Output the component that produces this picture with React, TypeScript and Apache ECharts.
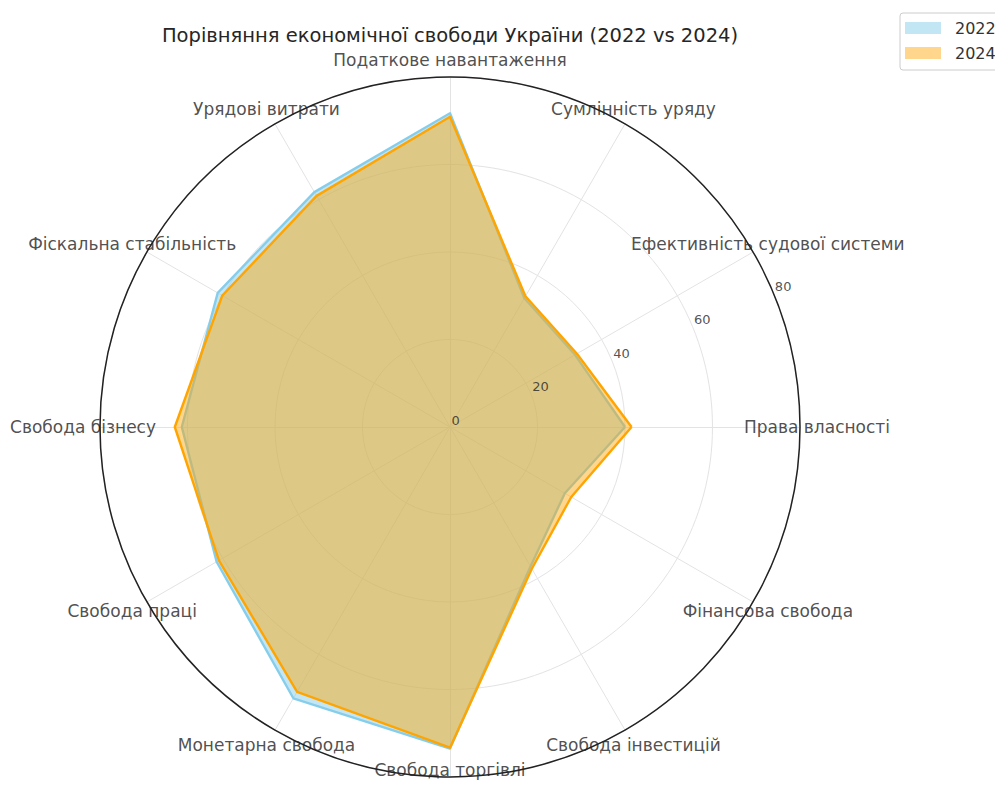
import React, { useEffect, useRef } from "react";
import * as echarts from "echarts";

const categories = [
  "Права власності",
  "Ефективність судової системи",
  "Сумлінність уряду",
  "Податкове навантаження",
  "Урядові витрати",
  "Фіскальна стабільність",
  "Свобода бізнесу",
  "Свобода праці",
  "Монетарна свобода",
  "Свобода торгівлі",
  "Свобода інвестицій",
  "Фінансова свобода",
];
const values2022 = [40.0, 33.0, 34.0, 71.7, 62.0, 61.3, 61.3, 61.6, 71.6, 73.5, 36.8, 30.3];
const values2024 = [41.5, 33.5, 34.5, 70.9, 61.0, 60.1, 62.9, 61.0, 69.9, 73.3, 37.4, 32.0];
const radialTicks = [0, 20, 40, 60, 80];
const radialMax = 80;
const tickAngle = 22.5;
const seriesNames = ["2022", "2024"];
const titleText = "Порівняння економічної свободи України (2022 vs 2024)";

const FONT = "DejaVu Sans";
const CX = 450;
const CY = 427;
const R = 350;
const LABEL_R = 367;

export default function App() {
  const ref = useRef<HTMLDivElement>(null);
  useEffect(() => {
    document.body.style.margin = "0";
    const chart = echarts.init(ref.current!, null, { renderer: "svg" });
    const option: any = {
      animation: false,
      backgroundColor: "#ffffff",
      graphic: [
        {
          type: "text",
          x: CX,
          y: 35,
          style: {
            text: titleText,
            fontFamily: FONT,
            fontSize: 19.5,
            fill: "#262626",
            textAlign: "center",
            textVerticalAlign: "middle",
          },
        },
      ],
      legend: {
        left: 900,
        top: 13,
        orient: "vertical",
        icon: "rect",
        itemWidth: 36,
        itemHeight: 12,
        itemGap: 9,
        padding: [7, 10, 9, 5],
        borderColor: "#cccccc",
        borderWidth: 1,
        borderRadius: 3,
        backgroundColor: "#ffffff",
        textStyle: { fontFamily: FONT, fontSize: 16, lineHeight: 16, color: "#333333", padding: [0, 0, 0, 9] },
        data: [
          { name: seriesNames[0], itemStyle: { color: "rgba(135,206,235,0.5)", borderWidth: 0 } },
          { name: seriesNames[1], itemStyle: { color: "rgba(255,165,0,0.45)", borderWidth: 0 } },
        ],
      },
      radar: {
        center: [CX, CY],
        radius: R,
        startAngle: 0,
        shape: "circle",
        splitNumber: 4,
        indicator: categories.map((c) => ({ name: c, min: 0, max: radialMax })),
        axisName: { show: false },
        axisLine: { lineStyle: { color: "#e3e3e3", width: 1 } },
        splitLine: { lineStyle: { color: "#e3e3e3", width: 1 } },
        splitArea: { show: false },
        axisTick: { show: false },
        axisLabel: { show: false },
      },
      polar: [
        { center: [CX, CY], radius: R },
        { center: [CX, CY], radius: LABEL_R },
      ],
      angleAxis: [
        {
          polarIndex: 0,
          type: "value",
          min: 0,
          max: 360,
          startAngle: 0,
          clockwise: false,
          z: 5,
          axisLine: { show: true, lineStyle: { color: "#222222", width: 1.5 } },
          axisTick: { show: false },
          axisLabel: { show: false },
          splitLine: { show: false },
        },
        {
          polarIndex: 1,
          type: "category",
          data: categories,
          boundaryGap: false,
          startAngle: 0,
          clockwise: false,
          show: false,
        },
      ],
      radiusAxis: [
        { polarIndex: 0, min: 0, max: radialMax, show: false },
        { polarIndex: 1, min: 0, max: 1, show: false },
      ],
      series: [
        {
          type: "radar",
          symbol: "none",
          z: 3,
          data: [
            {
              name: seriesNames[0],
              value: values2022,
              itemStyle: { color: "#87CEEB" },
              lineStyle: { color: "#87CEEB", width: 2.4 },
              areaStyle: { color: "#87CEEB", opacity: 0.5 },
            },
            {
              name: seriesNames[1],
              value: values2024,
              itemStyle: { color: "#FFA500" },
              lineStyle: { color: "#FFA500", width: 2.4 },
              areaStyle: { color: "#FFA500", opacity: 0.45 },
            },
          ],
        },
        {
          type: "scatter",
          coordinateSystem: "polar",
          polarIndex: 0,
          silent: true,
          symbolSize: 1,
          itemStyle: { color: "rgba(0,0,0,0)" },
          z: 6,
          data: radialTicks.map((v) => [v, tickAngle]),
          label: {
            show: true,
            position: "right",
            distance: 1,
            offset: [0, -7],
            formatter: (p: any) => String(p.value[0]),
            fontFamily: FONT,
            fontSize: 13,
            color: "#262626",
          },
        },
        {
          type: "scatter",
          coordinateSystem: "polar",
          polarIndex: 1,
          silent: true,
          symbolSize: 1,
          itemStyle: { color: "rgba(0,0,0,0)" },
          z: 6,
          data: categories.map((c, i) => ({
            name: c,
            value: [1, i],
            label: i === 9 ? { offset: [0, -24] } : undefined,
          })),
          label: {
            show: true,
            position: "inside",
            formatter: "{b}",
            fontFamily: FONT,
            fontSize: 17,
            color: "#222222",
          },
        },
      ],
    };
    chart.setOption(option);
    return () => chart.dispose();
  }, []);
  return <div ref={ref} style={{ width: 995, height: 803 }} />;
}
